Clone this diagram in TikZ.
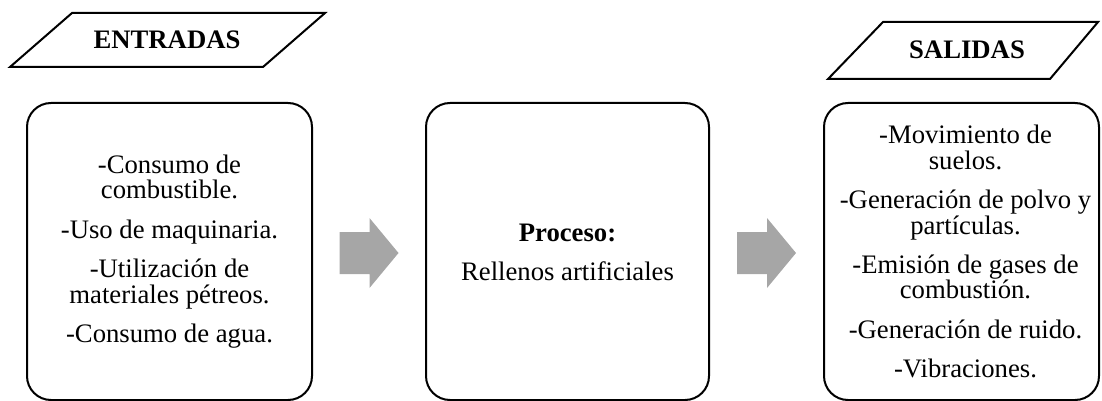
\documentclass[tikz,border=0pt]{standalone}
\usepackage{fontspec}
\setmainfont{Liberation Serif}
\usetikzlibrary{calc}
\definecolor{arrowgray}{HTML}{A6A6A6}
\newcommand\mytxtfont{\fontsize{13.35}{12.75}\selectfont\lineskiplimit=-20pt\relax}
\begin{document}
\begin{tikzpicture}[x=0.5pt,y=-0.5pt,
  box/.style={draw=black, line width=1pt, rounded corners=12pt, minimum height=148.5pt, inner sep=0pt},
  para/.style={draw=black, line width=1pt, line join=miter},
  txt/.style={align=center, inner sep=0pt, font=\mytxtfont},
  head/.style={inner sep=0pt, font=\mytxtfont\bfseries},
  arrowfill/.style={fill=arrowgray}]
\useasboundingbox (0,0) rectangle (1102,401);

% header parallelograms
\coordinate (e1) at (10,67);
\coordinate (e2) at (72,13);
\coordinate (e3) at (325,13);
\coordinate (e4) at (263,67);
\draw[para] (e1) -- (e2) -- (e3) -- (e4) -- cycle;
\node[head] (entradas) at (167,40) {ENTRADAS};

\coordinate (s1) at (828,79);
\coordinate (s2) at (883,22);
\coordinate (s3) at (1098,22);
\coordinate (s4) at (1050,79);
\draw[para] (s1) -- (s2) -- (s3) -- (s4) -- cycle;
\node[head] (salidas) at (967,50) {SALIDAS};

% boxes
\node[box, minimum width=142.5pt] (B1) at (169.5,251.5) {};
\node[box, minimum width=141.5pt] (B2) at (567.5,251.5) {};
\node[box, minimum width=137.5pt] (B3) at (961.5,251.5) {};

\node[txt] (t1) at (B1.center) {-Consumo de\\combustible.\\[6.9pt]-Uso de maquinaria.\\[6.9pt]-Utilización de\\materiales pétreos.\\[6.9pt]-Consumo de agua.};
\node[txt] (t2) at ($(B2.center)+(0,1)$) {\textbf{Proceso:}\\[6.9pt]Rellenos artificiales};
\node[txt] (t3) at ($(B3.center)+(4,0)$) {-Movimiento de\\suelos.\\[6.9pt]-Generación de polvo y\\partículas.\\[6.9pt]-Emisión de gases de\\combustión.\\[6.9pt]-Generación de ruido.\\[6.9pt]-Vibraciones.};

% block arrows
\coordinate (a1) at ($(B1.east)!0.5!(B2.west)+(0,1.5)$);
\coordinate (a2) at ($(B2.east)!0.5!(B3.west)+(0,1.5)$);
\foreach \a in {a1,a2}{
  \fill[arrowfill] (\a) ++(-29.5,-21) -- ++(30,0) -- ++(0,-14) -- ++(29,35) -- ++(-29,35) -- ++(0,-14) -- ++(-30,0) -- cycle;
}
\end{tikzpicture}
\end{document}
